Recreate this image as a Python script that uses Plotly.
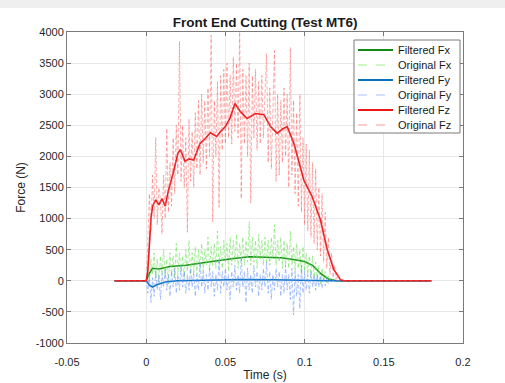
import numpy as np
import plotly.graph_objects as go

# ---- data ----
# original (raw) samples: 1 ms grid from 0 to 0.124 s, with flat zero before/after
t_raw_core = np.round(np.arange(0, 0.1245, 0.001), 4).tolist()
t_raw = [-0.02] + t_raw_core + [0.18]

fx_raw = [0, 150, -50, 350, 100, 450, 50, 350, -20, 400,
          100, 500, 50, 350, -50, 450, 100, 400, 50, 600,
          100, 450, 150, 400, 50, 500, 150, 650, 100, 450,
          150, 550, 100, 500, 200, 600, 150, 500, 250, 700,
          150, 550, 250, 600, 200, 800, 250, 550, 200, 650,
          300, 600, 150, 700, 250, 650, 300, 750, 200, 600,
          300, 700, 250, 650, 300, 950, 250, 700, 300, 650,
          200, 750, 350, 650, 250, 700, 300, 650, 250, 700,
          350, 900, 250, 650, 300, 700, 200, 650, 250, 600,
          200, 800, 250, 550, 150, 600, 200, 500, 100, 550,
          150, 450, 100, 400, 50, 400, 50, 300, 0, 250,
          -50, 200, 0, 150, -30, 80, 0, 40, 0, 20,
          0, 0, 0, 0, 0]

fy_raw = [0, -200, 100, -350, 50, -250, 150, -150, 80, -300,
          120, -100, 200, -150, 100, -250, 150, -100, 200, -200,
          100, -150, 250, -100, 150, -200, 100, -150, 200, -100,
          150, -250, 100, -150, 300, -100, 150, -200, 100, -150,
          200, -100, 150, -250, 100, -150, 350, -200, 150, -100,
          200, -150, 100, -300, 150, -100, 250, -150, 100, -200,
          380, -100, 150, -350, 200, -150, 100, -200, 250, -100,
          150, -250, 100, -150, 200, -100, 300, -200, 150, -300,
          100, -150, 200, -100, 150, -250, 100, -200, 250, -150,
          100, -300, 200, -550, 150, -250, 100, -450, 250, -200,
          150, -150, 100, -200, 150, -100, 100, -150, 100, -100,
          80, -120, 60, -80, 40, -50, 30, -20, 10, 0,
          0, 0, 0, 0, 0]

fz_raw = [0, 600, 1400, 800, 1700, 1000, 2300, 900, 1500, 1300,
          750, 1700, 1000, 2450, 1100, 1900, 1200, 2300, 1400, 2500,
          1700, 3850, 1600, 2500, 1500, 2300, 780, 2600, 1600, 2400,
          1500, 2700, 1800, 2900, 1700, 3000, 1900, 2900, 1800, 3100,
          2000, 3950, 950, 2900, 2000, 3200, 1180, 3300, 2100, 3400,
          2200, 3500, 2300, 3300, 2200, 3600, 2400, 3500, 2300, 4050,
          1320, 3400, 2200, 3300, 2000, 3500, 1250, 3300, 2300, 3400,
          2100, 3200, 2200, 3300, 2300, 3000, 3650, 1900, 3100, 1800,
          2900, 3700, 1600, 3000, 1700, 2900, 1900, 3100, 2000, 3000,
          1500, 3750, 1700, 2900, 1400, 2700, 1200, 3000, 1100, 2300,
          900, 2200, 800, 2100, 700, 1900, 600, 1800, 500, 1500,
          400, 1400, 300, 1100, 200, 700, 100, 450, 50, 250,
          0, 120, 0, 30, 0]

fx_raw = [0] + fx_raw + [0]
fy_raw = [0] + fy_raw + [0]
fz_raw = [0] + fz_raw + [0]

# filtered signals (smooth curves)
t_fx = [-0.02, 0.0, 0.002, 0.004, 0.008, 0.015, 0.025, 0.035, 0.045, 0.055,
        0.065, 0.075, 0.085, 0.092, 0.1, 0.105, 0.11, 0.115, 0.12, 0.18]
fx_filt = [0, 0, 120, 200, 190, 230, 250, 290, 330, 360,
           385, 380, 370, 345, 310, 250, 120, 30, 0, 0]

t_fy = [-0.02, 0.0, 0.002, 0.004, 0.007, 0.012, 0.02, 0.04, 0.06, 0.08, 0.1, 0.115, 0.18]
fy_filt = [0, 0, -70, -100, -60, -20, 0, 10, 20, 15, 10, 0, 0]

t_fz = [-0.02, 0.0, 0.001, 0.002, 0.003, 0.004, 0.006, 0.008, 0.010, 0.012,
        0.014, 0.017, 0.020, 0.0215, 0.0245, 0.027, 0.030, 0.034, 0.037, 0.0405,
        0.0445, 0.047, 0.050, 0.053, 0.056, 0.0595, 0.0637, 0.069, 0.0743, 0.0785,
        0.0827, 0.086, 0.089, 0.0932, 0.0965, 0.0995, 0.1048, 0.110, 0.1143, 0.1185,
        0.1227, 0.125, 0.18]
fz_filt = [0, 0, 150, 600, 1000, 1200, 1300, 1220, 1320, 1200,
           1450, 1730, 2050, 2110, 1920, 1960, 1940, 2210, 2280, 2380,
           2320, 2400, 2480, 2620, 2850, 2720, 2610, 2690, 2670, 2480,
           2370, 2440, 2480, 2210, 1900, 1620, 1350, 980, 500, 180,
           15, 0, 0]

x_ticks = [-0.05, 0, 0.05, 0.1, 0.15, 0.2]
x_tick_labels = ["-0.05", "0", "0.05", "0.1", "0.15", "0.2"]
y_ticks = [-1000, -500, 0, 500, 1000, 1500, 2000, 2500, 3000, 3500, 4000]
y_tick_labels = [str(v) for v in y_ticks]

FONT = "Liberation Sans, Arial, sans-serif"

# series styles: (name, x, y, color, width, dash)
series = [
    ("Filtered Fx", t_fx, fx_filt, "#138a13", 1.5, "solid"),
    ("Original Fx", t_raw, fx_raw, "rgba(110,228,90,0.65)", 0.9, "4px,2px"),
    ("Filtered Fy", t_fy, fy_filt, "#0a72bd", 1.5, "solid"),
    ("Original Fy", t_raw, fy_raw, "rgba(100,145,255,0.6)", 0.9, "4px,2px"),
    ("Filtered Fz", t_fz, fz_filt, "#e8181b", 1.6, "solid"),
    ("Original Fz", t_raw, fz_raw, "rgba(250,90,90,0.55)", 0.9, "4px,2px"),
]

fig = go.Figure()
for name, xs, ys, col, w, dash in series:
    fig.add_trace(go.Scatter(x=xs, y=ys, mode="lines", name=name, showlegend=False,
                             line=dict(color=col, width=w, dash=dash)))

# manual legend (MATLAB-like compact box), positioned in paper coords
PL, PT, PW, PH = 67, 32, 396, 311   # plot area in px
def px(x): return (x - PL) / PW
def py(y): return (PT + PH - y) / PH

shapes = [
    dict(type="rect", xref="paper", yref="paper", x0=-0.2, x1=1.2, y0=py(8), y1=py(-3),
         fillcolor="#efefef", line=dict(width=0), layer="below"),
    dict(type="rect", xref="paper", yref="paper", x0=px(354), x1=px(460), y0=py(133), y1=py(40),
         fillcolor="white", line=dict(color="#7a7a7a", width=1), layer="above"),
]
annotations = []
legend_colors = ["#138a13", "rgba(130,235,110,0.8)", "#0a72bd", "rgba(150,175,255,0.8)",
                 "#e8181b", "rgba(250,130,130,0.8)"]
for i, (name, xs, ys, col, w, dash) in enumerate(series):
    yc = 50 + i * 15
    shapes.append(dict(type="line", xref="paper", yref="paper", x0=px(358), x1=px(393),
                       y0=py(yc), y1=py(yc), layer="above",
                       line=dict(color=legend_colors[i], width=2 if dash == "solid" else 1,
                                 dash="solid" if dash == "solid" else "dash")))
    annotations.append(dict(xref="paper", yref="paper", x=px(396), y=py(yc), text=name,
                            showarrow=False, xanchor="left", yanchor="middle",
                            font=dict(family=FONT, size=11, color="#1a1a1a")))

axis_common = dict(showline=True, linecolor="#7a7a7a", linewidth=1, mirror="ticks",
                   ticks="inside", ticklen=4, tickcolor="#7a7a7a", automargin=False,
                   showgrid=True, gridcolor="#e8e8e8", gridwidth=1, zeroline=False,
                   tickfont=dict(family=FONT, size=11, color="#262626"))

fig.update_layout(
    width=505, height=383,
    margin=dict(l=PL, r=505 - PL - PW, t=PT, b=383 - PT - PH),
    paper_bgcolor="white", plot_bgcolor="white",
    title=dict(text="<b>Front End Cutting (Test MT6)</b>", x=0.525, xanchor="center",
               y=1 - 22 / 383, yanchor="middle", automargin=False,
               font=dict(family=FONT, size=13.5, color="#1a1a1a")),
    xaxis=dict(range=[-0.05, 0.2], tickvals=x_ticks, ticktext=x_tick_labels,
               ticklabelstandoff=9,
               title=dict(text="Time (s)", standoff=3,
                          font=dict(family=FONT, size=12, color="#262626")),
               **axis_common),
    yaxis=dict(range=[-1000, 4000], tickvals=y_ticks, ticktext=y_tick_labels,
               title=dict(text="Force (N)", standoff=7,
                          font=dict(family=FONT, size=12, color="#262626")),
               **axis_common),
    showlegend=False,
    shapes=shapes,
    annotations=annotations,
)

fig.write_html("out.html")
